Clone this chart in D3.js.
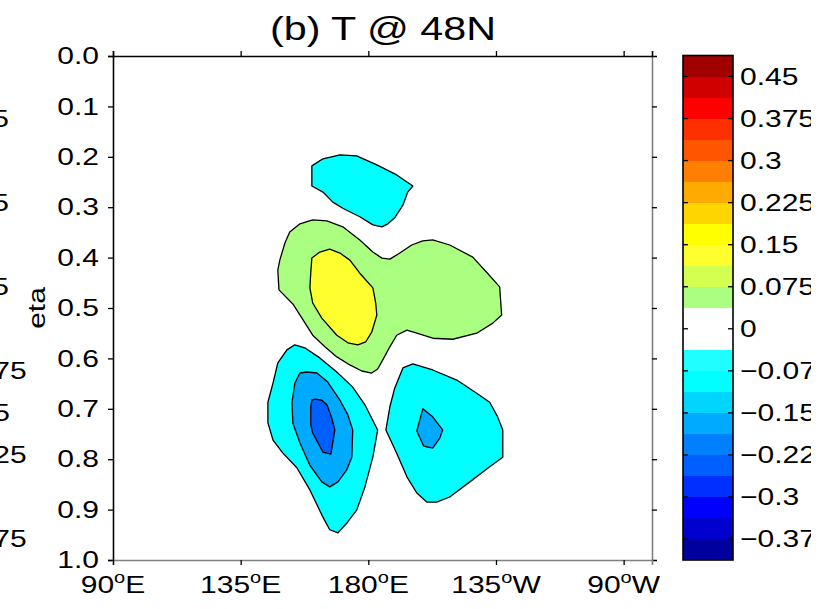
<!DOCTYPE html>
<html>
<head>
<meta charset="utf-8">
<script src="https://cdn.jsdelivr.net/npm/d3@7"></script>
<style>
  body { margin: 0; background: #fff; overflow: hidden; }
  text { font-family: "Liberation Sans", Arial, sans-serif; fill: #000; }
</style>
</head>
<body>
<div id="wrapper"></div>
<script>
// ---- data ----
const titleText = "(b) T @ 48N"
const yLabel = "eta"
const yTicks = [0, 0.1, 0.2, 0.3, 0.4, 0.5, 0.6, 0.7, 0.8, 0.9, 1.0]
const xTicks = [90, 135, 180, 225, 270]
const xTickNames = ["90", "135", "180", "135", "90"]
const xTickHemi = ["E", "E", "E", "W", "W"]

// colour bands of the colorbar (value breaks and fills, bottom to top)
const cbBreaks = [-0.375, -0.3375, -0.3, -0.2625, -0.225, -0.1875, -0.15, -0.1125, -0.075, -0.0375,
  0, 0.0375, 0.075, 0.1125, 0.15, 0.1875, 0.225, 0.2625, 0.3, 0.3375, 0.375, 0.4125, 0.45]
const cbColors = ["#00009f", "#0000cf", "#0000ff", "#0030ff", "#0060ff", "#0080ff", "#00aaff", "#00d5ff",
  "#00ffff", "#20ffff", "#ffffff", "#ffffff", "#aaff80", "#d4ff50", "#ffff30", "#ffff00",
  "#ffd500", "#ffaa00", "#ff8000", "#ff5500", "#ff3000", "#ff0000", "#d00000", "#a00000"]
const cbExtent = [-0.4125, 0.4875]
const cbLabels = [-0.375, -0.3, -0.225, -0.15, -0.075, 0, 0.075, 0.15, 0.225, 0.3, 0.375, 0.45]

// contour polygons, [longitude (deg E), eta], with the lower value of the filled interval
const topCyan = [[160.1,0.218],[164.0,0.204],[170.0,0.196],[175.9,0.198],[183.0,0.216],[190.0,0.236],
  [195.7,0.258],[193.9,0.270],[192.2,0.296],[189.3,0.321],[186.9,0.333],[184.8,0.339],[181.6,0.335],
  [177.0,0.319],[171.0,0.302],[167.5,0.290],[164.0,0.270],[160.1,0.258]]
const greenBlob = [[152.3,0.349],[155.9,0.333],[160.4,0.325],[165.4,0.327],[171.0,0.339],[177.0,0.365],
  [181.6,0.389],[184.8,0.401],[187.6,0.403],[191.1,0.391],[195.3,0.375],[199.2,0.367],[202.7,0.365],
  [208.7,0.375],[216.8,0.399],[221.7,0.429],[226.3,0.458],[227.0,0.514],[223.9,0.530],[218.2,0.550],
  [209.8,0.562],[202.7,0.560],[197.1,0.550],[193.6,0.544],[190.0,0.554],[187.6,0.577],[185.1,0.603],
  [183.3,0.621],[181.2,0.629],[177.7,0.625],[173.5,0.613],[168.9,0.597],[164.7,0.577],[160.4,0.554],
  [156.6,0.520],[153.4,0.492],[148.5,0.464],[148.1,0.425],[148.8,0.405],[150.6,0.371]]
const yellowCore = [[160.1,0.401],[162.9,0.389],[166.4,0.383],[170.0,0.391],[173.5,0.405],[177.0,0.431],
  [181.6,0.460],[182.6,0.490],[183.0,0.514],[181.2,0.548],[179.1,0.567],[176.3,0.573],[172.8,0.569],
  [168.9,0.554],[163.6,0.520],[160.4,0.490],[159.4,0.460],[159.7,0.431]]
const westCyan = [[151.3,0.583],[154.1,0.573],[157.6,0.579],[162.9,0.599],[168.9,0.627],[174.5,0.657],
  [178.8,0.692],[183.3,0.742],[181.6,0.796],[178.8,0.855],[175.9,0.901],[172.4,0.927],[169.3,0.946],
  [166.4,0.940],[164.0,0.915],[159.4,0.861],[154.8,0.817],[149.9,0.788],[146.4,0.762],[144.6,0.728],
  [144.6,0.687],[146.4,0.649],[148.1,0.609]]
const westMid = [[155.9,0.629],[158.3,0.627],[161.9,0.629],[165.7,0.647],[170.0,0.683],[172.8,0.712],
  [174.5,0.742],[174.2,0.796],[172.4,0.821],[169.3,0.845],[166.4,0.855],[163.6,0.845],[159.4,0.812],
  [155.9,0.768],[153.4,0.728],[153.1,0.687],[154.1,0.649]]
const westCore = [[160.1,0.683],[161.2,0.681],[163.6,0.683],[165.4,0.692],[167.1,0.718],[168.2,0.742],
  [166.8,0.790],[164.0,0.786],[160.4,0.748],[159.7,0.732],[159.7,0.696]]
const eastCyan = [[192.2,0.619],[195.7,0.611],[202.7,0.623],[211.2,0.643],[218.2,0.669],[222.8,0.687],
  [225.6,0.716],[227.4,0.742],[227.4,0.796],[222.8,0.815],[215.8,0.845],[208.7,0.875],[204.1,0.885],
  [200.6,0.885],[197.1,0.867],[193.6,0.835],[190.0,0.788],[186.2,0.742],[187.6,0.696],[189.3,0.659]]
const eastCore = [[199.2,0.700],[202.7,0.716],[206.2,0.742],[205.2,0.758],[202.7,0.778],[199.5,0.774],
  [197.1,0.744]]

const contours = [
  {level: -0.1125, pts: topCyan},
  {level: 0.0375, pts: greenBlob},
  {level: 0.1125, pts: yellowCore},
  {level: -0.1125, pts: westCyan},
  {level: -0.1875, pts: westMid},
  {level: -0.2625, pts: westCore},
  {level: -0.1125, pts: eastCyan},
  {level: -0.1875, pts: eastCore},
]

function drawChart() {
  const fontSize = 24
  const sx = 1.25   // the figure's text is drawn wider than plain Arial
  const dims = {
    width: 831, height: 609,
    plot: {left: 113, top: 56, right: 652, bottom: 560},
    cb: {left: 683, right: 733, top: 55.5, bottom: 560},
  }

  const svg = d3.select("#wrapper").append("svg")
      .attr("width", dims.width)
      .attr("height", dims.height)

  svg.append("clipPath").attr("id", "fig")
    .append("rect").attr("width", 811).attr("height", dims.height)

  const root = svg.append("g").attr("clip-path", "url(#fig)")

  // scales
  const xScale = d3.scaleLinear()
    .domain([90, 280])
    .range([dims.plot.left, dims.plot.right])
  const yScale = d3.scaleLinear()
    .domain([0, 1])
    .range([dims.plot.top, dims.plot.bottom])
  const colorScale = d3.scaleThreshold()
    .domain(cbBreaks)
    .range(cbColors)
  const cbScale = d3.scaleLinear()
    .domain(cbExtent)
    .range([dims.cb.bottom, dims.cb.top])

  const fmt = d => (d < 0 ? "\u2212" : "") + Math.abs(d)
  const place = (x, y) => `translate(${x},${y}) scale(${sx},1)`

  // labels of the neighbouring panel's colorbar, cut off by the page edge
  root.append("g")
    .selectAll("text")
    .data(cbLabels)
    .join("text")
      .attr("transform", d => place(-66, cbScale(d)))
      .attr("dy", "0.35em")
      .style("font-size", fontSize + "px")
      .text(fmt)

  // contour fills
  const line = d3.line()
    .x(d => xScale(d[0]))
    .y(d => yScale(d[1]))
    .curve(d3.curveLinearClosed)

  root.append("g")
    .selectAll("path")
    .data(contours)
    .join("path")
      .attr("d", d => line(d.pts))
      .attr("fill", d => colorScale(d.level))
      .attr("stroke", "#000")
      .attr("stroke-width", 1.3)
      .attr("stroke-linejoin", "round")

  // axes
  const tick = 5
  const yAxis = root.append("g")
    .attr("transform", `translate(${dims.plot.left},0)`)
    .call(d3.axisLeft(yScale).tickValues(yTicks).tickSize(tick).tickPadding(9)
      .tickFormat(d3.format(".1f")))
  const yAxisR = root.append("g")
    .attr("transform", `translate(${dims.plot.right},0)`)
    .call(d3.axisLeft(yScale).tickValues(yTicks).tickSize(-tick).tickFormat(""))
  const xAxisB = root.append("g")
    .attr("transform", `translate(0,${dims.plot.bottom})`)
    .call(d3.axisBottom(xScale).tickValues(xTicks).tickSize(tick).tickFormat(""))
  const xAxisT = root.append("g")
    .attr("transform", `translate(0,${dims.plot.top})`)
    .call(d3.axisTop(xScale).tickValues(xTicks).tickSize(tick).tickFormat(""))

  ;[yAxis, xAxisT].forEach(a => {
    a.select(".domain").attr("stroke", "#000").attr("stroke-width", 1.6)
  })
  ;[yAxisR, xAxisB].forEach(a => {
    a.select(".domain").attr("stroke", "#808080").attr("stroke-width", 1.6)
  })
  root.selectAll(".tick line").attr("stroke", "#000").attr("stroke-width", 1.3)
  root.selectAll(".domain").attr("fill", "none")
  yAxis.selectAll("text")
    .attr("transform", place(-14, 0))
    .attr("x", 0)
    .style("font-size", fontSize + "px")
    .attr("font-family", null)

  // x tick labels with superscript degree sign
  const xLab = root.append("g")
    .selectAll("text")
    .data(xTicks)
    .join("text")
      .attr("transform", d => place(xScale(d), 593))
      .attr("text-anchor", "middle")
      .style("font-size", fontSize + "px")
  xLab.append("tspan").text((d, i) => xTickNames[i])
  xLab.append("tspan").attr("dy", -10).style("font-size", "16px").text("o")
  xLab.append("tspan").attr("dy", 10).text((d, i) => xTickHemi[i])

  // y label
  root.append("text")
    .attr("transform", `translate(45,${yScale(0.5)}) rotate(-90) scale(${sx},1)`)
    .attr("text-anchor", "middle")
    .style("font-size", fontSize + "px")
    .text(yLabel)

  // title
  root.append("text")
    .attr("transform", place(383, 40))
    .attr("text-anchor", "middle")
    .style("font-size", "33px")
    .text(titleText)

  // colorbar
  const cb = root.append("g")
  cb.selectAll("rect")
    .data(cbColors)
    .join("rect")
      .attr("x", dims.cb.left)
      .attr("width", dims.cb.right - dims.cb.left)
      .attr("y", (d, i) => cbScale(i < cbBreaks.length ? cbBreaks[i] : cbExtent[1]))
      .attr("height", (d, i) => cbScale(i ? cbBreaks[i - 1] : cbExtent[0])
        - cbScale(i < cbBreaks.length ? cbBreaks[i] : cbExtent[1]))
      .attr("fill", d => d)
      .attr("shape-rendering", "crispEdges")
  cb.selectAll("line.tl")
    .data(cbLabels)
    .join("line")
      .attr("class", "tl")
      .attr("x1", dims.cb.left).attr("x2", dims.cb.left + 5)
      .attr("y1", d => cbScale(d)).attr("y2", d => cbScale(d))
      .attr("stroke", "#000").attr("stroke-width", 1.3)
  cb.selectAll("line.tr")
    .data(cbLabels)
    .join("line")
      .attr("class", "tr")
      .attr("x1", dims.cb.right - 5).attr("x2", dims.cb.right)
      .attr("y1", d => cbScale(d)).attr("y2", d => cbScale(d))
      .attr("stroke", "#000").attr("stroke-width", 1.3)
  cb.append("rect")
    .attr("x", dims.cb.left)
    .attr("y", dims.cb.top)
    .attr("width", dims.cb.right - dims.cb.left)
    .attr("height", dims.cb.bottom - dims.cb.top)
    .attr("fill", "none")
    .attr("stroke", "#000")
    .attr("stroke-width", 1.6)
  cb.selectAll("text")
    .data(cbLabels)
    .join("text")
      .attr("transform", d => place(740, cbScale(d)))
      .attr("dy", "0.35em")
      .style("font-size", fontSize + "px")
      .text(fmt)
}
drawChart()
</script>
</body>
</html>
